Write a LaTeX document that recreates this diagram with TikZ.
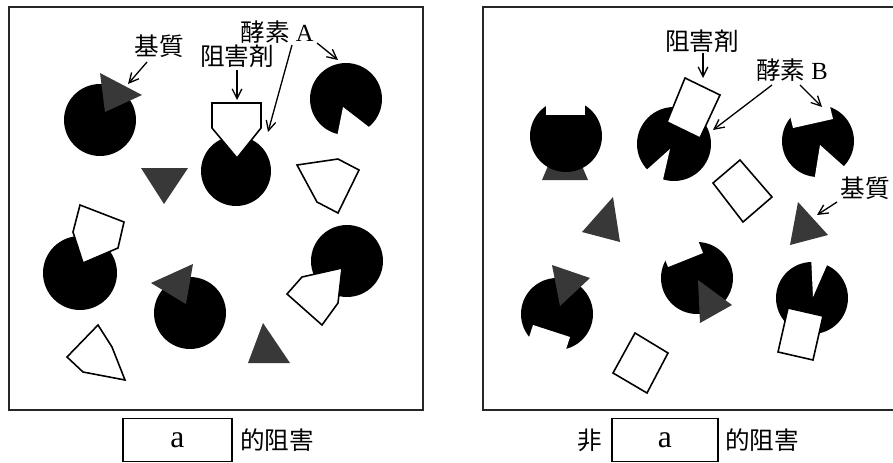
\documentclass[tikz,border=0pt]{standalone}
\usepackage{fontspec}
\setmainfont{Liberation Serif}
\newfontfamily\cjk{Noto Sans CJK JP}
\usetikzlibrary{arrows.meta}
\tikzset{
  panel/.style={draw=black!85, line width=1.1pt},
  enz/.style={fill=black},
  notch/.style={fill=white},
  inh/.style={fill=white, draw=black, line width=0.9pt, line join=miter},
  sub/.style={fill=black!78},
  lbl/.style={font=\fontsize{14}{16}\selectfont, inner sep=0pt},
  arr/.style={-{Straight Barb[length=5.5pt,width=5.5pt]}, line width=0.75pt},
  ansbox/.style={draw=black, line width=0.9pt, minimum width=2.18cm, minimum height=0.86cm, font=\fontsize{18}{20}\selectfont},
}
\begin{document}
\begin{tikzpicture}[x=0.02cm, y=-0.02cm]
\useasboundingbox (0,0) rectangle (893,463);

% ---------------- competitive inhibition ----------------
\draw[panel] (9,7) rectangle (423,410);

% enzyme with bound substrate (top left)
\fill[enz] (100,120) circle[radius=0.72cm];
\fill[sub] (100,73) -- (142,95) -- (105,112) -- cycle;

% enzyme with bound inhibitor (centre)
\fill[enz] (236,171) circle[radius=0.70cm];
\draw[inh] (212,103) -- (261,103) -- (261,128) -- (237,158) -- (212,128) -- cycle;

% free enzyme (top right)
\fill[enz] (346,99) circle[radius=0.72cm];
\fill[notch] (343,107) -- (336,142) -- (378,134) -- cycle;

% free substrate and inhibitor
\fill[sub] (141,168) -- (188,168) -- (164,204) -- cycle;
\draw[inh] (297,165) -- (338,159) -- (359,170) -- (338,213) -- (317,202) -- cycle;

% enzyme with bound inhibitor (bottom left)
\fill[enz] (80,273) circle[radius=0.74cm];
\draw[inh] (80,205) -- (124,222) -- (118,248) -- (83,263) -- (73,232) -- cycle;

% enzyme with bound substrate (bottom centre)
\fill[enz] (190,313) circle[radius=0.72cm];
\fill[sub] (151,283) -- (193,264) -- (186,304) -- cycle;

% enzyme with bound inhibitor (right)
\fill[enz] (347,261) circle[radius=0.72cm];
\draw[inh] (287,294) -- (302,277) -- (342,268) -- (338,303) -- (322,325) -- cycle;

% free inhibitor and substrate (bottom)
\draw[inh] (67,357) -- (98,325) -- (112,347) -- (125,380) -- (83,372) -- cycle;
\fill[sub] (248,363) -- (263,323) -- (290,363) -- cycle;

% labels
\node[lbl] (subA) at (159,46) {\cjk 基質};
\node[lbl] (inhA) at (237,56) {\cjk 阻害剤};
\node[lbl] (enzA) at (277,32) {{\cjk 酵素} A};
\coordinate (subAs) at (147,62);  \coordinate (subAe) at (128,84);
\coordinate (inhAs) at (237,70);  \coordinate (inhAe) at (237,100);
\coordinate (enzAs1) at (292,45); \coordinate (enzAe1) at (268,132);
\coordinate (enzAs2) at (317,43); \coordinate (enzAe2) at (338,60);
\draw[arr] (subAs) -- (subAe);
\draw[arr] (inhAs) -- (inhAe);
\draw[arr] (enzAs1) -- (enzAe1);
\draw[arr] (enzAs2) -- (enzAe2);

\node[ansbox] (boxA) at (177.5,440) {a};
\node[lbl, anchor=west] (capA) at (240,440) {\cjk 的阻害};

% ---------------- non-competitive inhibition ----------------
\draw[panel] (483,7) rectangle (900,410);

% R1: enzyme with substrate, inhibitor site empty
\fill[sub] (565,126) -- (588,180) -- (542,180) -- cycle;
\fill[enz] (566,136) circle[radius=0.72cm];
\fill[notch] (546,92) rectangle (585,115);

% R2: enzyme with bound inhibitor
\fill[enz] (674,144) circle[radius=0.74cm];
\fill[notch] (670,149) -- (642,174) -- (662,184) -- cycle;
\draw[inh] (685,78) -- (720,95) -- (700,138) -- (667,122) -- cycle;

% R3: free enzyme
\fill[enz] (818,141) circle[radius=0.72cm];
\fill[notch] (793,128) -- (833,119) -- (826,90) -- (786,99) -- cycle;
\fill[notch] (820,145) -- (814,182) -- (848,170) -- cycle;

% free inhibitor and substrates
\draw[inh] (713,183) -- (740,160) -- (772,197) -- (743,222) -- cycle;
\fill[sub] (582,232) -- (613,197) -- (620,242) -- cycle;
\fill[sub] (798,202) -- (828,235) -- (790,245) -- cycle;

% R7: enzyme with substrate
\fill[enz] (557,314) circle[radius=0.72cm];
\fill[notch] (533,325) -- (570,337) -- (561,365) -- (524,353) -- cycle;
\fill[sub] (552,265) -- (590,278) -- (560,306) -- cycle;

% R8: enzyme with substrate
\fill[enz] (697,278) circle[radius=0.72cm];
\fill[notch] (668,267) -- (703,253) -- (692,225) -- (657,239) -- cycle;
\fill[sub] (698,280) -- (732,305) -- (700,323) -- cycle;

% R9: enzyme with bound inhibitor
\fill[enz] (812,298) circle[radius=0.72cm];
\fill[notch] (813,297) -- (811,255) -- (831,256) -- cycle;
\draw[inh] (788,308) -- (823,316) -- (813,360) -- (778,352) -- cycle;

% free inhibitor (bottom)
\draw[inh] (613,373) -- (635,333) -- (668,353) -- (647,393) -- cycle;

% labels
\node[lbl] (inhB) at (702,41) {\cjk 阻害剤};
\node[lbl] (enzB) at (792,70) {{\cjk 酵素} B};
\node[lbl] (subB) at (865,188) {\cjk 基質};
\coordinate (inhBs) at (703,53);  \coordinate (inhBe) at (703,78);
\coordinate (enzBs1) at (772,85); \coordinate (enzBe1) at (713,130);
\coordinate (enzBs2) at (800,85); \coordinate (enzBe2) at (822,107);
\coordinate (subBs) at (837,202); \coordinate (subBe) at (817,215);
\draw[arr] (inhBs) -- (inhBe);
\draw[arr] (enzBs1) -- (enzBe1);
\draw[arr] (enzBs2) -- (enzBe2);
\draw[arr] (subBs) -- (subBe);

\node[lbl] (nonB) at (590,440) {\cjk 非};
\node[ansbox, minimum width=2.12cm] (boxB) at (665,440) {a};
\node[lbl, anchor=west] (capB) at (725,440) {\cjk 的阻害};
\end{tikzpicture}
\end{document}
